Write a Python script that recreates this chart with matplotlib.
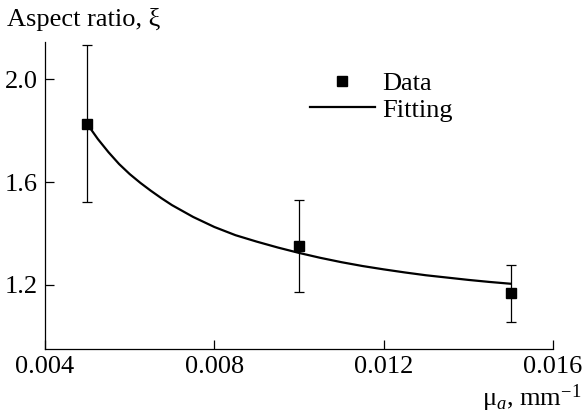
import matplotlib
matplotlib.use("Agg")
import matplotlib.pyplot as plt

# measured points with error bars
mu_a = [0.005, 0.010, 0.015]
xi = [1.826, 1.349, 1.167]
xi_upper = [2.135, 1.531, 1.277]
xi_lower = [1.524, 1.172, 1.057]

# fitted curve
fit_mu = [0.00500, 0.00525, 0.00550, 0.00575, 0.00600, 0.00625, 0.00650,
          0.00675, 0.00700, 0.00750, 0.00800, 0.00850, 0.00900, 0.00950,
          0.01000, 0.01050, 0.01100, 0.01150, 0.01200, 0.01250, 0.01300,
          0.01350, 0.01400, 0.01450, 0.01500]
fit_xi = [1.825, 1.767, 1.716, 1.670, 1.631, 1.597, 1.566,
          1.537, 1.510, 1.464, 1.425, 1.393, 1.368, 1.345,
          1.324, 1.305, 1.288, 1.273, 1.260, 1.248, 1.237,
          1.228, 1.219, 1.211, 1.204]

x_ticks = [0.004, 0.008, 0.012, 0.016]
y_ticks = [1.2, 1.6, 2.0]

FS = 19

plt.rcParams['font.family'] = ['Liberation Serif', 'DejaVu Serif']
plt.rcParams['font.size'] = FS
plt.rcParams['mathtext.fontset'] = 'custom'
plt.rcParams['mathtext.rm'] = 'Liberation Serif'
plt.rcParams['mathtext.it'] = 'Liberation Serif:italic'

fig = plt.figure(figsize=(5.82, 4.15), dpi=100)
ax = fig.add_axes([45 / 582, 1 - 349 / 415, 508 / 582, 307 / 415])

yerr = [[v - lo for v, lo in zip(xi, xi_lower)],
        [hi - v for v, hi in zip(xi, xi_upper)]]
ax.errorbar(mu_a, xi, yerr=yerr, fmt='none', ecolor='black',
            elinewidth=0.9, capsize=3.9, capthick=0.9, zorder=2)
data_h, = ax.plot(mu_a, xi, 's', color='black', markersize=7.7,
                  linestyle='none', zorder=4)
fit_h, = ax.plot(fit_mu, fit_xi, '-', color='black', linewidth=1.6, zorder=3)

ax.set_xlim(0.004, 0.016)
ax.set_ylim(0.95, 2.145)
ax.set_xticks(x_ticks)
ax.set_xticklabels(['0.004', '0.008', '0.012', '0.016'])
ax.set_yticks(y_ticks)
ax.set_yticklabels(['1.2', '1.6', '2.0'])

for side in ['top', 'right']:
    ax.spines[side].set_visible(False)
for side in ['left', 'bottom']:
    ax.spines[side].set_linewidth(0.9)
ax.tick_params(direction='in', length=6.5, width=0.9, labelsize=FS)
ax.tick_params(axis='x', pad=5)
ax.tick_params(axis='y', pad=5)

fig.text(7 / 582, 1 - 26 / 415, 'Aspect ratio, ξ', ha='left', va='baseline',
         fontsize=FS)
fig.text(581 / 582, 1 - 406 / 415, 'μ$_a$, mm$^{-1}$', ha='right',
         va='baseline', fontsize=FS)

fig.legend([data_h, fit_h], ['Data', 'Fitting'], loc='upper left',
           bbox_to_anchor=(310 / 582, 1 - 72 / 415), frameon=False,
           borderpad=0, borderaxespad=0, handlelength=2.45,
           handletextpad=0.3, labelspacing=0.1, fontsize=FS)

fig.savefig('out.png', dpi=100)
